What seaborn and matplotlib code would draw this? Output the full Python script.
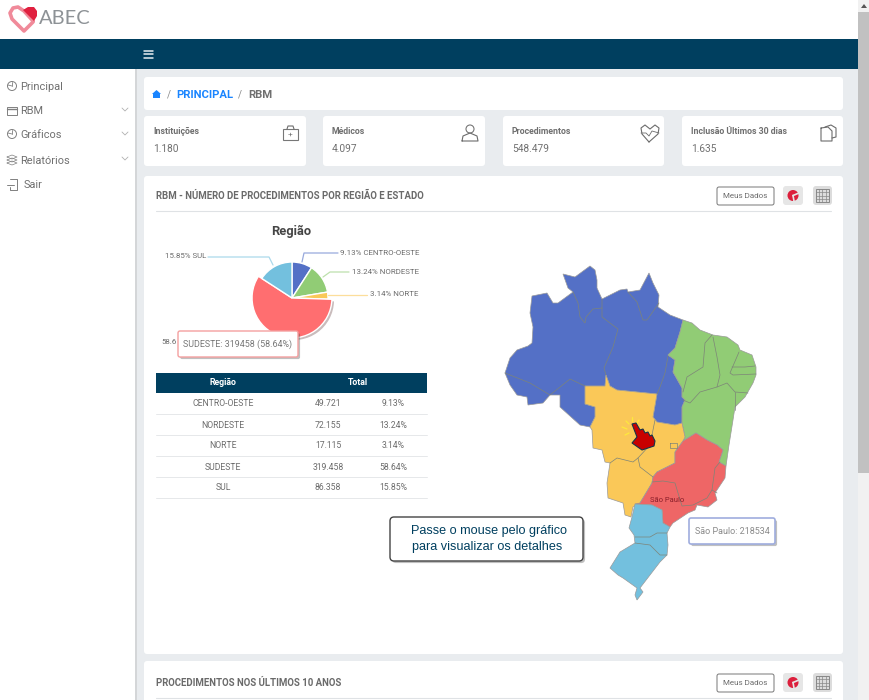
#######################
#       Imports       #
#######################
import matplotlib
matplotlib.use("Agg")
import matplotlib.pyplot as plt
import matplotlib.patheffects as pe
from matplotlib.patches import FancyBboxPatch, Polygon, Rectangle, Circle
import seaborn as sns

#######################
#        Data         #
#######################
REGIOES = ["CENTRO-OESTE", "NORDESTE", "NORTE", "SUDESTE", "SUL"]
TOTAIS = [49721, 72155, 17115, 319458, 86358]
TOTAIS_TXT = ["49.721", "72.155", "17.115", "319.458", "86.358"]
PERCENTUAIS = [9.13, 13.24, 3.14, 58.64, 15.85]
CORES = ["#5470c6", "#91cc75", "#fac858", "#ee6666", "#73c0de"]

MENU = ["Principal", "RBM", "Gráficos", "Relatórios", "Sair"]
CARDS_TITULOS = ["Instituições", "Médicos", "Procedimentos", "Inclusão Últimos 30 dias"]
CARDS_VALORES = ["1.180", "4.097", "548.479", "1.635"]

# contornos do mapa
MAPA_NORTE = [(505, 373), (510, 358), (517, 350), (528, 346), (532, 343), (533, 327), (530, 313), (532, 296),
              (547, 293), (553, 303), (558, 303), (573, 292), (568, 288), (563, 274), (575, 277), (590, 266),
              (595, 270), (597, 280), (597, 288), (602, 299), (620, 290), (627, 289), (628, 292), (640, 290),
              (649, 273), (653, 283), (659, 295), (658, 307), (670, 315), (683, 320), (680, 332), (675, 348),
              (668, 355), (675, 360), (673, 372), (682, 388), (682, 397), (685, 400), (682, 407), (682, 423),
              (675, 425), (657, 422), (653, 417), (657, 394), (617, 390), (610, 386), (606, 375), (605, 386),
              (585, 386), (585, 404), (595, 407), (595, 417), (590, 427), (580, 425), (560, 407), (560, 395),
              (550, 395), (543, 403), (528, 405), (527, 397), (517, 395), (510, 385)]
MAPA_NORDESTE = [(683, 320), (692, 323), (700, 330), (713, 335), (727, 337), (738, 345), (740, 350), (752, 355),
                 (756, 367), (756, 375), (753, 383), (745, 397), (735, 407), (733, 420), (729, 445), (726, 466),
                 (719, 462), (723, 450), (717, 445), (707, 440), (696, 433), (683, 441), (685, 437), (682, 423),
                 (682, 407), (685, 400), (682, 397), (682, 388), (673, 372), (675, 360), (668, 355), (675, 348),
                 (680, 332)]
MAPA_CENTRO = [(585, 386), (605, 386), (606, 375), (610, 386), (617, 390), (657, 394), (653, 417), (657, 422),
               (675, 425), (682, 423), (685, 437), (683, 441), (675, 452), (675, 463), (657, 472), (653, 477),
               (652, 483), (640, 503), (633, 507), (631, 517), (625, 515), (623, 503), (608, 498), (607, 483),
               (610, 463), (605, 462), (602, 450), (593, 448), (592, 430), (590, 427), (595, 417), (595, 407),
               (585, 404)]
MAPA_SUDESTE = [(683, 441), (696, 433), (707, 440), (717, 445), (723, 450), (719, 462), (726, 466), (725, 478),
                (715, 493), (717, 500), (708, 507), (697, 505), (695, 510), (688, 513), (673, 523), (670, 527),
                (663, 523), (662, 510), (652, 505), (635, 504), (640, 503), (652, 483), (653, 477), (657, 472),
                (675, 463), (675, 452)]
MAPA_SUL = [(635, 504), (652, 505), (662, 510), (663, 523), (670, 527), (667, 533), (668, 545), (667, 555),
            (660, 562), (650, 575), (640, 588), (643, 592), (637, 600), (635, 595), (637, 588), (623, 578),
            (618, 575), (610, 568), (620, 552), (635, 543), (634, 535), (629, 528), (632, 517)]
MAPAS = [MAPA_NORTE, MAPA_NORDESTE, MAPA_CENTRO, MAPA_SUDESTE, MAPA_SUL]

DIVISAS = [
    [(505, 373), (530, 383), (550, 395), (570, 379), (585, 386)],
    [(573, 292), (578, 303), (580, 317), (585, 323), (586, 317), (593, 309), (602, 308)],
    [(602, 299), (602, 317), (618, 329), (613, 347), (604, 368), (606, 375)],
    [(628, 292), (637, 302), (643, 320), (647, 320), (659, 303)],
    [(668, 356), (665, 373), (660, 387), (657, 394)],
    [(712, 335), (705, 343), (703, 367), (687, 377), (683, 392)],
    [(713, 337), (717, 357), (720, 375), (717, 387), (700, 392), (690, 403), (683, 400)],
    [(739, 352), (730, 373), (733, 375), (756, 374)],
    [(732, 367), (745, 367), (755, 366)],
    [(717, 387), (727, 383), (735, 392), (748, 393)],
    [(735, 392), (735, 410)],
    [(655, 420), (653, 430), (650, 445), (638, 458), (640, 467), (653, 477)],
    [(610, 463), (617, 458), (633, 462), (638, 458)],
    [(670, 443), (677, 443), (677, 448), (670, 448), (670, 443)],
    [(652, 482), (663, 481), (675, 483), (678, 493), (682, 506), (693, 505), (707, 498), (712, 490), (715, 468), (720, 462)],
    [(712, 490), (717, 493)],
    [(635, 537), (650, 537), (657, 533), (667, 533)],
    [(635, 543), (650, 545), (660, 555), (667, 555)],
]
MAO = [(632, 424), (636, 423), (640, 430), (643, 429), (645, 433), (648, 432), (650, 436), (652, 435), (655, 441),
       (654, 446), (642, 450), (632, 443), (637, 437)]

AZUL_ESCURO = "#003f5f"
FUNDO = "#e9ecef"
TEXTO = "#6c6c6c"

sns.set_style("white")
plt.rcParams["font.family"] = ["Roboto", "DejaVu Sans"]


###########################
#        Functions        #
###########################
def caixa(ax, x0, y0, x1, y1, face="white", borda="none", lw=0.0, raio=3, z=1, sombra=False):
    patch = FancyBboxPatch((x0, y0), x1 - x0, y1 - y0, boxstyle=f"round,pad=0,rounding_size={raio}",
                           fc=face, ec=borda, lw=lw, zorder=z)
    if sombra:
        patch.set_path_effects([pe.SimplePatchShadow(offset=(1.5, -1.5), alpha=0.35), pe.Normal()])
    ax.add_patch(patch)


def linha(ax, pts, cor=TEXTO, lw=0.8, z=3):
    ax.plot([p[0] for p in pts], [p[1] for p in pts], color=cor, lw=lw, zorder=z, solid_capstyle="round")


def texto(ax, x, y, s, size=7.5, cor=TEXTO, ha="left", peso="normal", z=5, **kw):
    ax.text(x, y, s, fontsize=size, color=cor, ha=ha, va="center", fontweight=peso, zorder=z, **kw)


def cabecalho_card(ax, y, titulo):
    texto(ax, 156, y + 0.7, titulo, size=6.95, cor="#6a6a6a", peso="bold")
    linha(ax, [(156, y + 16), (831, y + 16)], cor="#dfe2e5", lw=0.8)
    caixa(ax, 717, y - 8, 774, y + 10, borda="#777777", lw=0.7, raio=2)
    texto(ax, 745.5, y + 1, "Meus Dados", size=5.8, ha="center")
    caixa(ax, 783, y - 9, 803, y + 10, face="#e6e6e6", raio=3)
    ax.add_patch(Circle((793, y + 0.5), 5.5, fc="#dc1f3c", ec="none", zorder=3))
    linha(ax, [(793, y + 0.5), (799, y - 2)], cor="#e6e6e6", lw=1.2, z=4)
    linha(ax, [(793, y + 0.5), (794, y + 6)], cor="#e6e6e6", lw=1.2, z=4)
    caixa(ax, 813, y - 9, 832, y + 10, face="#dcdcdc", raio=3)
    ax.add_patch(Rectangle((816, y - 6), 13, 13, fc="none", ec="#888888", lw=0.7, zorder=3))
    for d in (3.2, 6.5, 9.8):
        linha(ax, [(816 + d, y - 6), (816 + d, y + 7)], cor="#888888", lw=0.5, z=4)
        linha(ax, [(816, y - 6 + d), (829, y - 6 + d)], cor="#888888", lw=0.5, z=4)


def desenhar_interface(ax):
    ax.add_patch(Rectangle((0, 0), 870, 700, fc=FUNDO, ec="none", zorder=0))
    ax.add_patch(Rectangle((0, 0), 858, 39, fc="white", ec="none", zorder=1))
    ax.add_patch(Rectangle((0, 39), 858, 30, fc=AZUL_ESCURO, ec="none", zorder=1))
    ax.add_patch(Rectangle((0, 69), 135, 631, fc="white", ec="none", zorder=1))
    ax.add_patch(Rectangle((135, 69), 2, 631, fc="#d4d6d8", ec="none", zorder=1))
    # barra de rolagem
    ax.add_patch(Rectangle((858, 0), 12, 700, fc="#f1f1f1", ec="none", zorder=1))
    ax.add_patch(Rectangle((858, 12), 12, 461, fc="#c1c1c1", ec="none", zorder=2))
    ax.add_patch(Polygon([(861, 8), (864, 4), (867, 8)], fc="#555555", ec="none", zorder=2))

    # logo
    linha(ax, [(33, 22), (24, 31), (12, 19), (10, 13), (13, 8), (18, 7), (24, 11), (33, 21)], cor="#f08a9a", lw=2.6)
    ax.add_patch(Polygon([(23, 10), (28, 7), (34, 7), (37, 11), (37, 16), (34, 21)], fc="#e0203f", ec="none", zorder=4))
    ax.text(39, 19, "ABEC", fontsize=14.5, color="#8d9296", va="center", family="Lato", zorder=5)

    # menu hamburguer
    for y in (50.5, 54, 57.5):
        linha(ax, [(144, y), (153, y)], cor="#e8edf0", lw=1.1)

    # menu lateral
    ys_menu = [87, 111, 135, 160, 185]
    for i, (nome, y) in enumerate(zip(MENU, ys_menu)):
        texto(ax, 23.5 if nome == "Sair" else 20.5, y + 0.5, nome, size=7.9, cor="#707070")
        if nome in ("RBM", "Gráficos", "Relatórios"):
            linha(ax, [(122, y - 3), (125, y), (128, y - 3)], cor="#b0b0b0", lw=0.6)
        if nome in ("Principal", "Gráficos"):
            ax.add_patch(Circle((12, y - 1), 4.5, fc="none", ec="#808080", lw=0.7, zorder=3))
            linha(ax, [(12, y - 1), (12, y - 5.5)], cor="#808080", lw=0.6)
            linha(ax, [(12, y - 1), (8, y - 2)], cor="#808080", lw=0.6)
        elif nome == "RBM":
            ax.add_patch(Rectangle((7, y - 4), 10, 8, fc="none", ec="#808080", lw=0.7, zorder=3))
            linha(ax, [(7, y - 2), (17, y - 2)], cor="#808080", lw=1.0)
        elif nome == "Relatórios":
            for d in (-3, 0, 3):
                linha(ax, [(7, y + d), (12, y + d - 2), (17, y + d), (12, y + d + 2), (7, y + d)], cor="#808080", lw=0.5)
        else:
            linha(ax, [(10, y - 6), (17, y - 6), (17, y + 5), (10, y + 5), (10, y + 2)], cor="#808080", lw=0.7)
            linha(ax, [(7, y), (14, y)], cor="#808080", lw=0.7)

    # breadcrumb
    caixa(ax, 144, 77, 843, 110)
    ax.add_patch(Polygon([(152, 94), (156.5, 90), (161, 94), (160, 94), (160, 98), (153, 98), (153, 94)],
                         fc="#1a85ff", ec="none", zorder=3))
    texto(ax, 167, 94.5, "/", size=7, cor="#888888")
    texto(ax, 176.5, 94.7, "PRINCIPAL", size=8.1, cor="#1a85ff", peso="bold")
    texto(ax, 238, 94.5, "/", size=7, cor="#888888")
    texto(ax, 248, 94.7, "RBM", size=8.1, cor="#6f6f6f", peso="bold")

    # cards de resumo
    for x0, x1, titulo, valor in zip([144, 323, 503, 682], [306, 485, 664, 843], CARDS_TITULOS, CARDS_VALORES):
        caixa(ax, x0, 116, x1, 166)
        texto(ax, x0 + 9, 131.7, titulo, size=6.3, cor="#6f6f6f", peso="bold")
        texto(ax, x0 + 9, 149.5, valor, size=7.3, cor="#707070")
    ax.add_patch(Rectangle((283, 129), 15, 11, fc="none", ec="#777777", lw=0.8, zorder=3))
    linha(ax, [(287, 129), (288, 126), (293, 126), (294, 129)], lw=0.8)
    texto(ax, 290.5, 134.5, "+", size=6, ha="center", cor="#777777")
    ax.add_patch(Circle((470, 129), 4, fc="none", ec="#777777", lw=0.8, zorder=3))
    linha(ax, [(462, 141), (463, 136), (470, 133), (477, 136), (478, 141), (462, 141)], lw=0.8)
    linha(ax, [(649, 142), (642, 134), (641, 128), (645, 125), (650, 129), (655, 125), (659, 128), (658, 134), (649, 142)], lw=0.8)
    linha(ax, [(641, 133), (646, 133), (649, 136), (652, 131), (659, 133)], lw=0.6)
    linha(ax, [(821, 128), (821, 141), (832, 141), (832, 131), (828, 127), (821, 128)], lw=0.8)
    linha(ax, [(825, 127), (831, 125), (836, 128), (836, 137), (832, 138)], lw=0.8)

    # card principal e card seguinte
    caixa(ax, 144, 176, 843, 654)
    caixa(ax, 144, 661, 843, 712)
    cabecalho_card(ax, 195, "RBM - NÚMERO DE PROCEDIMENTOS POR REGIÃO E ESTADO")
    cabecalho_card(ax, 682, "PROCEDIMENTOS NOS ÚLTIMOS 10 ANOS")


def desenhar_tabela(ax):
    ax.add_patch(Rectangle((156, 373), 271, 20, fc=AZUL_ESCURO, ec="none", zorder=2))
    texto(ax, 223, 382.5, "Região", size=6.3, cor="white", ha="center", peso="bold")
    texto(ax, 358, 382.5, "Total", size=6.3, cor="white", ha="center", peso="bold")
    for i, (regiao, total, pct) in enumerate(zip(REGIOES, TOTAIS_TXT, PERCENTUAIS)):
        y = 403.5 + i * 21
        texto(ax, 223, y + 0.5, regiao, size=6.2, ha="center")
        texto(ax, 328, y + 0.5, total, size=6.2, ha="center")
        texto(ax, 393, y + 0.5, f"{pct:.2f}%", size=6.2, ha="center")
        linha(ax, [(156, y + 10.5), (427, y + 10.5)], cor="#e6e8ea", lw=0.7)


def desenhar_pizza(fig):
    raio = 36
    lado = 2.6 * raio
    ax_pie = fig.add_axes([(292 - lado / 2) / 870, 1 - (298 + lado / 2) / 700, lado / 870, lado / 700], zorder=2)
    fatias, _ = ax_pie.pie(TOTAIS, colors=CORES, startangle=90, counterclock=False, radius=1)
    ax_pie.set_xlim(-1.3, 1.3)
    ax_pie.set_ylim(-1.3, 1.3)
    # fatia destacada pelo hover
    fatias[3].set_radius(1.11)
    fatias[3].set_facecolor("#ff6e70")
    fatias[3].set_path_effects([pe.SimplePatchShadow(offset=(1.5, -1.5), alpha=0.3), pe.Normal()])


def desenhar_rotulos_pizza(ax):
    guias = [
        [(302, 262), (304, 253), (338, 253)],
        [(323, 277), (330, 272), (349, 272)],
        [(328, 295), (367, 295)],
        [(208, 257), (269, 257), (273, 265)],
    ]
    for idx, pts in zip([0, 1, 2, 4], guias):
        linha(ax, pts, cor=sns.desaturate(CORES[idx], 1.0) + (0.6,), lw=0.9, z=6)
    rotulos = [f"{p:.2f}% {r}" for p, r in zip(PERCENTUAIS, REGIOES)]
    texto(ax, 340, 253, rotulos[0], size=5.7, z=6)
    texto(ax, 352, 272.5, rotulos[1], size=5.7, z=6)
    texto(ax, 370, 294.5, rotulos[2], size=5.7, z=6)
    texto(ax, 165, 256.5, rotulos[4], size=5.7, z=6)
    # o tooltip cobre o resto deste rotulo na referencia
    texto(ax, 177, 342, rotulos[3][:4], size=5.7, z=6, ha="right")
    ax.text(291, 231, "Região", fontsize=9.3, fontweight="bold", color="#454545", ha="center", va="center", zorder=6)
    caixa(ax, 178, 331, 298, 357, borda="#f4a0a0", lw=1.0, raio=2, z=7, sombra=True)
    texto(ax, 238, 344, f"SUDESTE: {TOTAIS[3]} ({PERCENTUAIS[3]:.2f}%)", size=6.4, ha="center", z=8, cor="#777777")


def desenhar_mapa(ax):
    for contorno, cor in zip(MAPAS, CORES):
        ax.add_patch(Polygon(contorno, closed=True, fc=cor, ec="#9a9a9a", lw=0.5, zorder=3))
    for divisa in DIVISAS:
        linha(ax, divisa, cor="#7d8478", lw=0.5, z=4)
    texto(ax, 667, 500, "São Paulo", size=5.5, cor="#8a1f2a", ha="center", z=5)
    # cursor da mao
    for a, b in [((622, 427), (627, 429)), ((626, 421), (629, 424)), ((632, 417), (632, 421)), ((639, 420), (637, 423)), ((625, 435), (629, 433))]:
        linha(ax, [a, b], cor="#ffe93b", lw=0.9, z=5)
    ax.add_patch(Polygon(MAO, closed=True, fc="#c80000", ec="#16344a", lw=0.8, zorder=6))
    # tooltip do estado
    caixa(ax, 689, 518, 775, 544, borda="#9fadde", lw=1.2, raio=2, z=7, sombra=True)
    texto(ax, 732, 531, "São Paulo: 218534", size=6.5, ha="center", z=8, cor="#8a8a8a")
    # balao de ajuda
    caixa(ax, 390, 517, 583, 561, borda="#444444", lw=1.0, raio=4, z=7, sombra=True)
    ax.text(489, 531, "Passe o mouse pelo gráfico", fontsize=9.1, color=AZUL_ESCURO, ha="center", va="center",
            family="Liberation Sans", zorder=8)
    ax.text(487, 547, "para visualizar os detalhes", fontsize=9.1, color=AZUL_ESCURO, ha="center", va="center",
            family="Liberation Sans", zorder=8)


###########################
#          Main           #
###########################
fig = plt.figure(figsize=(8.7, 7), dpi=100)

ax_fundo = fig.add_axes([0, 0, 1, 1], zorder=1)
ax_fundo.set_xlim(0, 870)
ax_fundo.set_ylim(700, 0)
ax_fundo.axis("off")
desenhar_interface(ax_fundo)
desenhar_tabela(ax_fundo)
desenhar_mapa(ax_fundo)

desenhar_pizza(fig)

ax_topo = fig.add_axes([0, 0, 1, 1], zorder=3)
ax_topo.set_xlim(0, 870)
ax_topo.set_ylim(700, 0)
ax_topo.axis("off")
ax_topo.patch.set_alpha(0)
desenhar_rotulos_pizza(ax_topo)

fig.savefig("out.png", dpi=100)
plt.close(fig)
